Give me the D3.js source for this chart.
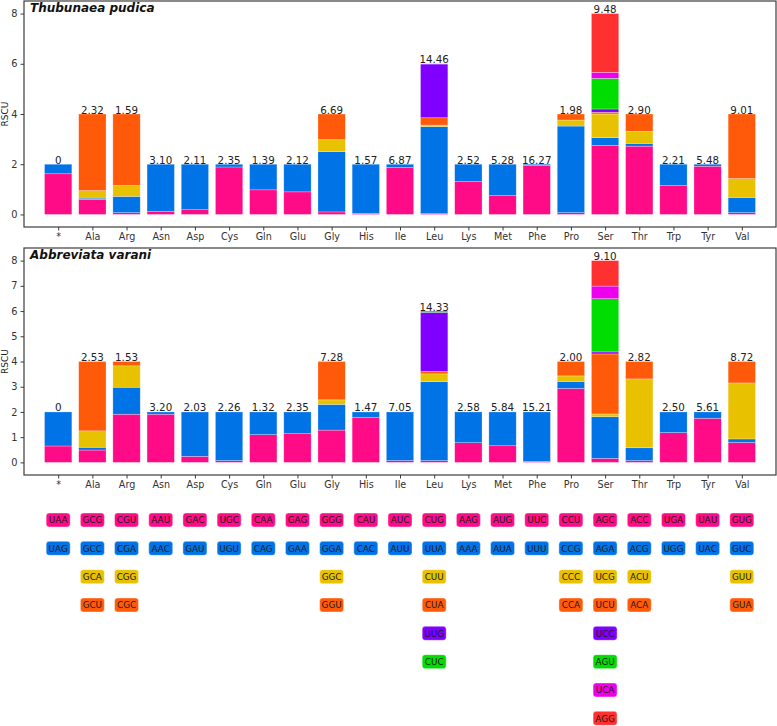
<!DOCTYPE html>
<html>
<head>
<meta charset="utf-8">
<script src="https://cdn.jsdelivr.net/npm/d3@7"></script>
<style>
  body { margin: 0; background: #fff; }
  text { font-family: "DejaVu Sans", sans-serif; }
</style>
</head>
<body>
<div id="chart"></div>
<script>
// amino acids along the x axis
const aminoAcids = ["*","Ala","Arg","Asn","Asp","Cys","Gln","Glu","Gly","His","Ile",
  "Leu","Lys","Met","Phe","Pro","Ser","Thr","Trp","Tyr","Val"];

// codons for each amino acid, in stacking order (bottom first)
const codons = [
  ["UAA","UAG"], ["GCG","GCC","GCA","GCU"], ["CGU","CGA","CGG","CGC"], ["AAU","AAC"],
  ["GAC","GAU"], ["UGC","UGU"], ["CAA","CAG"], ["GAG","GAA"], ["GGG","GGA","GGC","GGU"],
  ["CAU","CAC"], ["AUC","AUU"], ["CUG","UUA","CUU","CUA","UUG","CUC"], ["AAG","AAA"],
  ["AUG","AUA"], ["UUC","UUU"], ["CCU","CCG","CCC","CCA"],
  ["AGC","AGA","UCG","UCU","UCC","AGU","UCA","AGG"], ["ACC","ACG","ACU","ACA"],
  ["UGA","UGG"], ["UAU","UAC"], ["GUG","GUC","GUU","GUA"]
];

// RSCU of each codon, Thubunaea pudica
const rscuPudica = [
  [1.62,0.38], [0.60,0.05,0.30,3.05], [0.07,0.65,0.43,2.85], [0.12,1.88],
  [0.19,1.81], [1.89,0.11], [0.98,1.02], [0.90,1.10], [0.10,2.40,0.48,1.02],
  [0.04,1.96], [1.87,0.13], [0.03,3.47,0.06,0.29,2.14,0.01], [1.31,0.69],
  [0.75,1.25], [1.95,0.05], [0.07,3.45,0.24,0.24],
  [2.75,0.31,0.94,0.07,0.13,1.22,0.24,2.34], [2.72,0.11,0.48,0.69],
  [1.15,0.85], [1.92,0.08], [0.07,0.61,0.75,2.57]
];
const labelsPudica = ["0","2.32","1.59","3.10","2.11","2.35","1.39","2.12","6.69","1.57","6.87",
  "14.46","2.52","5.28","16.27","1.98","9.48","2.90","2.21","5.48","9.01"];

// RSCU of each codon, Abbreviata varani
const rscuVarani = [
  [0.65,1.35], [0.49,0.11,0.65,2.75], [1.91,1.07,0.85,0.17], [1.91,0.09],
  [0.24,1.76], [0.07,1.93], [1.10,0.90], [1.14,0.86], [1.28,1.02,0.18,1.52],
  [1.79,0.21], [0.07,1.93], [0.07,3.13,0.31,0.09,2.35,0.05], [0.78,1.22],
  [0.66,1.34], [0.04,1.96], [2.93,0.28,0.22,0.57],
  [0.16,1.65,0.11,2.38,0.08,2.11,0.50,1.01], [0.07,0.51,2.73,0.69],
  [1.18,0.82], [1.75,0.25], [0.79,0.14,2.22,0.85]
];
const labelsVarani = ["0","2.53","1.53","3.20","2.03","2.26","1.32","2.35","7.28","1.47","7.05",
  "14.33","2.58","5.84","15.21","2.00","9.10","2.82","2.50","5.61","8.72"];

const colors = ["#ff0a87","#0073e6","#e8c100","#ff5a0a","#8000ff","#00dd00","#ee00ee","#ff3030"];

const W = 777, H = 726;
const svg = d3.select("#chart").append("svg")
  .attr("width", W).attr("height", H);

// x positions shared by both panels and codon table
const x = d3.scaleLinear().domain([-1, 21]).range([24, 776]);
const barW = (x(1) - x(0)) * 0.8;

function drawPanel(top, bottom, yTicks, title, rscu, labels) {
  const y = d3.scaleLinear().domain([-0.5, 8.5]).range([bottom, top]);
  const g = svg.append("g");

  // stacked bars
  rscu.forEach((vals, i) => {
    let acc = 0;
    vals.forEach((v, k) => {
      g.append("rect")
        .attr("x", x(i) - barW / 2)
        .attr("y", y(acc + v))
        .attr("width", barW)
        .attr("height", y(acc) - y(acc + v))
        .attr("fill", colors[k])
        .attr("stroke", "rgba(255,255,255,0.45)")
        .attr("stroke-width", 0.6);
      acc += v;
    });
    g.append("text")
      .attr("x", x(i))
      .attr("y", y(acc) - 0.5)
      .attr("text-anchor", "middle")
      .attr("font-family", "Noto Sans, sans-serif")
      .attr("font-size", "10.3px")
      .attr("fill", "#222")
      .text(labels[i]);
  });

  // frame
  g.append("rect")
    .attr("x", 24).attr("y", top)
    .attr("width", 752).attr("height", bottom - top)
    .attr("fill", "none")
    .attr("stroke", "#3c3c3c")
    .attr("stroke-width", 1.2);

  // y axis
  const yAxis = g.append("g")
    .attr("transform", "translate(24,0)")
    .call(d3.axisLeft(y).tickValues(yTicks).tickSize(3.5).tickPadding(3).tickFormat(d3.format("d")));
  yAxis.select(".domain").remove();
  yAxis.selectAll("line").attr("stroke", "#3c3c3c");
  yAxis.selectAll("text").attr("font-size", "9.8px").attr("fill", "#333")
    .attr("font-family", "Noto Sans, sans-serif");

  // x axis
  const xAxis = g.append("g")
    .attr("transform", "translate(0," + bottom + ")")
    .call(d3.axisBottom(x).tickValues(d3.range(aminoAcids.length)).tickSize(3.5).tickPadding(3)
      .tickFormat(i => aminoAcids[i]));
  xAxis.select(".domain").remove();
  xAxis.selectAll("line").attr("stroke", "#3c3c3c");
  xAxis.selectAll("text").attr("font-size", "9.6px").attr("fill", "#333")
    .attr("font-family", "Noto Sans, sans-serif");

  // y label
  g.append("text")
    .attr("transform", "translate(7.5," + ((top + bottom) / 2) + ") rotate(-90)")
    .attr("text-anchor", "middle")
    .attr("font-size", "9px")
    .attr("fill", "#222")
    .text("RSCU");

  // species title
  g.append("text")
    .attr("x", 30).attr("y", top + 11)
    .attr("font-family", "Noto Sans, sans-serif")
    .attr("font-size", "12px")
    .attr("font-weight", "bold")
    .attr("font-style", "italic")
    .attr("fill", "#111")
    .text(title);
}

drawPanel(1, 227, [0, 2, 4, 6, 8], "Thubunaea pudica", rscuPudica, labelsPudica);
drawPanel(248, 475, d3.range(0, 9), "Abbreviata varani", rscuVarani, labelsVarani);

// codon table
const rowY = d3.scaleLinear().domain([0, 7]).range([520, 718.3]);
const table = svg.append("g");
codons.forEach((list, i) => {
  list.forEach((c, k) => {
    table.append("rect")
      .attr("x", x(i) - 12).attr("y", rowY(k) - 7)
      .attr("width", 24).attr("height", 14)
      .attr("rx", 3)
      .attr("fill", colors[k])
      .attr("stroke", "rgba(255,255,255,0.5)")
      .attr("stroke-width", 0.8);
    table.append("text")
      .attr("x", x(i)).attr("y", rowY(k) + 3.2)
      .attr("text-anchor", "middle")
      .attr("font-size", "8.8px")
      .attr("fill", "#1a1a1a")
      .text(c);
  });
});
</script>
</body>
</html>
